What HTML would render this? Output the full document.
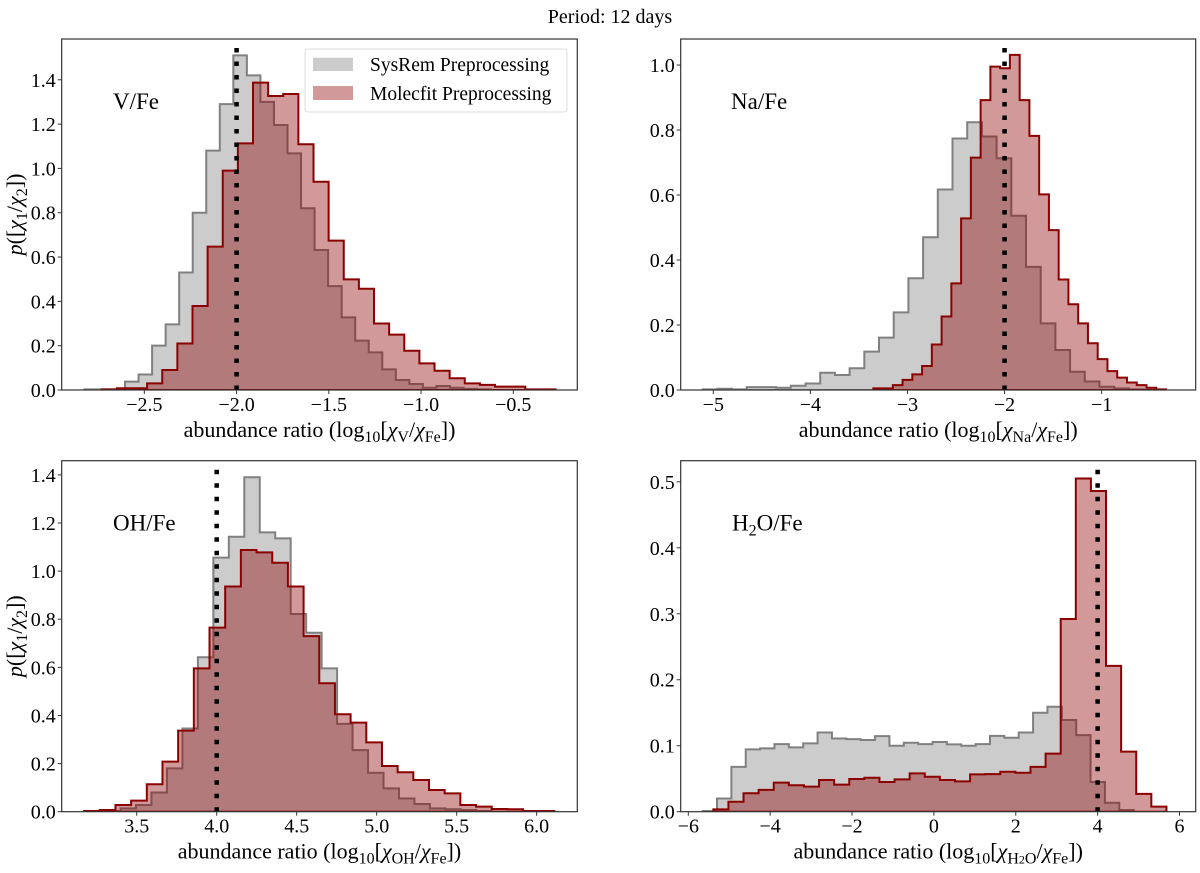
<!DOCTYPE html>
<html><head><meta charset="utf-8"><style>
html,body{margin:0;padding:0;background:#fff;}
svg, svg text, svg tspan{font-family:"Liberation Serif",serif;}
</style></head><body>
<svg id="fig" width="1200" height="868" viewBox="0 0 1200 868" xmlns="http://www.w3.org/2000/svg">
<text x="610" y="23" font-size="20" style="font-family:'Liberation Serif',serif" text-anchor="middle" fill="#000">Period: 12 days</text>
</svg>
<script>
// ---- data ----
const vfeSysStart=-2.825, vfeSysWidth=0.0734;
const vfeSys=[0.003,0.003,0.003,0.038,0.07,0.2,0.296,0.53,0.80,1.08,1.29,1.51,1.42,1.30,1.196,1.068,0.82,0.632,0.469,0.328,0.223,0.17,0.093,0.045,0.027,0.01,0.018,0.01,0.005,0.003];
const vfeMolStart=-2.731, vfeMolWidth=0.082;
const vfeMol=[0.003,0.008,0.008,0.03,0.09,0.21,0.379,0.647,0.99,1.113,1.387,1.327,1.336,1.109,0.94,0.674,0.499,0.457,0.30,0.25,0.177,0.12,0.087,0.053,0.03,0.023,0.015,0.015,0.003,0.003];
const nafeSysStart=-5.110, nafeSysWidth=0.1514;
const nafeSys=[0.002,0.004,0.002,0.009,0.009,0.007,0.013,0.02,0.053,0.046,0.067,0.118,0.161,0.239,0.344,0.47,0.617,0.774,0.824,0.78,0.713,0.536,0.379,0.205,0.123,0.056,0.026,0.01,0.005,0.002];
const nafeMolStart=-3.352, nafeMolWidth=0.1005;
const nafeMol=[0.005,0.005,0.015,0.031,0.048,0.074,0.14,0.226,0.328,0.528,0.715,0.892,0.995,0.99,1.031,0.892,0.782,0.602,0.492,0.34,0.264,0.205,0.144,0.095,0.058,0.038,0.023,0.015,0.007,0.002];
const ohfeSysStart=3.302, ohfeSysWidth=0.0967;
const ohfeSys=[0.003,0.014,0.028,0.08,0.18,0.346,0.642,1.056,1.143,1.39,1.161,1.136,0.822,0.744,0.596,0.365,0.256,0.162,0.097,0.055,0.032,0.014,0.01,0.007,0.003];
const ohfeMolStart=3.171, ohfeMolWidth=0.098;
const ohfeMol=[0.003,0.007,0.028,0.046,0.114,0.208,0.337,0.596,0.765,0.936,1.088,1.078,1.035,0.936,0.73,0.534,0.405,0.37,0.288,0.19,0.164,0.132,0.09,0.076,0.028,0.021,0.011,0.01,0.003,0.003];
const h2ofeSysStart=-5.65, h2ofeSysWidth=0.351;
const h2ofeSys=[0.001,0.02,0.068,0.0944,0.096,0.1025,0.0975,0.1035,0.12,0.111,0.110,0.1086,0.1146,0.1,0.1045,0.1025,0.1056,0.102,0.1,0.1025,0.115,0.112,0.12,0.15,0.159,0.139,0.116,0.045,0.0136,0.0025];
const h2ofeMolStart=-5.389, h2ofeMolWidth=0.369;
const h2ofeMol=[0.0035,0.015,0.028,0.033,0.044,0.04,0.038,0.048,0.041,0.0495,0.0515,0.045,0.049,0.058,0.053,0.048,0.046,0.0566,0.057,0.0606,0.059,0.068,0.088,0.292,0.505,0.486,0.221,0.091,0.027,0.0076];
const vfeXTicks=[-2.5,-2.0,-1.5,-1.0,-0.5];
const nafeXTicks=[-5,-4,-3,-2,-1];
const ohfeXTicks=[3.5,4.0,4.5,5.0,5.5,6.0];
const h2ofeXTicks=[-6,-4,-2,0,2,4,6];
const vfeYTicks=[0,0.2,0.4,0.6,0.8,1.0,1.2,1.4];
const nafeYTicks=[0,0.2,0.4,0.6,0.8,1.0];
const ohfeYTicks=[0,0.2,0.4,0.6,0.8,1.0,1.2,1.4];
const h2ofeYTicks=[0,0.1,0.2,0.3,0.4,0.5];
const vfeTruth=-2.0, nafeTruth=-2.0, ohfeTruth=4.0, h2ofeTruth=4.0;

const NS='http://www.w3.org/2000/svg';
const svg=document.getElementById('fig');
function mk(tag,attrs,parent){const e=document.createElementNS(NS,tag);for(const k in attrs)e.setAttribute(k,attrs[k]);if(tag==='text'){e.setAttribute('font-family','Liberation Serif');e.setAttribute('style',"font-family:'Liberation Serif',serif");}(parent||svg).appendChild(e);return e;}
function fmtTick(v,dec){const s=Math.abs(v).toFixed(dec);return (v<0?'\u2212':'')+s;}

function histPath(start,width,vals,sx,sy){
  let d='M'+sx(start)+','+sy(0);
  vals.forEach((v,i)=>{const x0=sx(start+i*width),x1=sx(start+(i+1)*width);d+=' L'+x0+','+sy(v)+' L'+x1+','+sy(v);});
  d+=' L'+sx(start+vals.length*width)+','+sy(0)+' Z';
  return d;
}

function panel(p){
  const g=mk('g',{});
  
  
  const sx=v=>p.L+(v-p.xmin)/(p.xmax-p.xmin)*p.W;
  const sy=v=>p.B-(v-p.ymin)/(p.ymax-p.ymin)*p.H;
  const clipId='clip-'+p.name;
  const cp=mk('clipPath',{id:clipId},g);
  mk('rect',{x:p.L,y:p.B-p.H,width:p.W,height:p.H},cp);
  const plot=mk('g',{'clip-path':'url(#'+clipId+')'},g);
  const gs=mk('path',{d:histPath(p.sysStart,p.sysWidth,p.sys,sx,sy),fill:'#cccccc',stroke:'#808080','stroke-width':2,'stroke-linejoin':'miter'},plot);
  
  
  const rm=mk('path',{d:histPath(p.molStart,p.molWidth,p.mol,sx,sy),fill:'rgba(139,0,0,0.4)',stroke:'#8b0000','stroke-width':2,'stroke-linejoin':'miter'},plot);
  
  
  const tl=mk('line',{x1:sx(p.truth),x2:sx(p.truth),y1:p.B,y2:p.B-p.H,stroke:'#000','stroke-width':4.5,'stroke-dasharray':'4.5 9'},plot);
  
  
  const fr=mk('rect',{x:p.L,y:p.B-p.H,width:p.W,height:p.H,fill:'none',stroke:'#333','stroke-width':1.2},g);
  
  
  p.xt.forEach(v=>{
    const x=sx(v);
    mk('line',{x1:x,x2:x,y1:p.B,y2:p.B+4,stroke:'#333','stroke-width':1},g);
    const t=mk('text',{x:x,y:p.B+21,'font-size':20,'text-anchor':'middle',fill:'#000'},g);
    
    
    t.textContent=fmtTick(v,p.xdec);
  });
  p.yt.forEach(v=>{
    const y=sy(v);
    mk('line',{x1:p.L-4,x2:p.L,y1:y,y2:y,stroke:'#333','stroke-width':1},g);
    const t=mk('text',{x:p.L-6,y:y+7,'font-size':20,'text-anchor':'end',fill:'#000'},g);
    
    
    t.textContent=fmtTick(v,1);
  });
  const xl=mk('text',{x:p.L+p.W/2,y:p.B+47,'font-size':22,'text-anchor':'middle',fill:'#000'},g);
  
  
  xl.innerHTML='abundance ratio (log<tspan font-size="16" dy="5">10</tspan><tspan dy="-5">[</tspan><tspan font-style="italic">χ</tspan><tspan font-size="16" dy="5">'+p.sub+'</tspan><tspan dy="-5">/</tspan><tspan font-style="italic">χ</tspan><tspan font-size="16" dy="5">Fe</tspan><tspan dy="-5">])</tspan>';
  const lb=mk('text',{x:p.labX,y:p.B-p.H+70,'font-size':23,fill:'#000'},g);
  
  
  lb.innerHTML=p.label;
  if(p.ylabel){
    const yl=mk('text',{x:0,y:0,'font-size':22,'text-anchor':'middle',fill:'#000',transform:'translate(22,'+(p.B-p.H/2)+') rotate(-90)'},g);
    
    
    yl.innerHTML='<tspan font-style="italic">p</tspan>([<tspan font-style="italic">χ</tspan><tspan font-size="16" dy="5">1</tspan><tspan dy="-5">/</tspan><tspan font-style="italic">χ</tspan><tspan font-size="16" dy="5">2</tspan><tspan dy="-5">])</tspan>';
  }
}

panel({name:'v-fe',L:61.7,W:515.6,B:390,H:351,xmin:-2.948,xmax:-0.153,ymin:0,ymax:1.584,
  sysStart:vfeSysStart,sysWidth:vfeSysWidth,sys:vfeSys,molStart:vfeMolStart,molWidth:vfeMolWidth,mol:vfeMol,
  truth:vfeTruth,xt:vfeXTicks,yt:vfeYTicks,xdec:1,sub:'V',label:'V/Fe',labX:113,ylabel:true});
panel({name:'na-fe',L:680.7,W:515,B:390,H:351,xmin:-5.336,xmax:-0.031,ymin:0,ymax:1.08,
  sysStart:nafeSysStart,sysWidth:nafeSysWidth,sys:nafeSys,molStart:nafeMolStart,molWidth:nafeMolWidth,mol:nafeMol,
  truth:nafeTruth,xt:nafeXTicks,yt:nafeYTicks,xdec:0,sub:'Na',label:'Na/Fe',labX:731,ylabel:false});
panel({name:'oh-fe',L:61.7,W:515.6,B:811.7,H:351,xmin:3.031,xmax:6.254,ymin:0,ymax:1.459,
  sysStart:ohfeSysStart,sysWidth:ohfeSysWidth,sys:ohfeSys,molStart:ohfeMolStart,molWidth:ohfeMolWidth,mol:ohfeMol,
  truth:ohfeTruth,xt:ohfeXTicks,yt:ohfeYTicks,xdec:1,sub:'OH',label:'OH/Fe',labX:113,ylabel:true});
panel({name:'h2o-fe',L:680.7,W:515,B:811.7,H:351,xmin:-6.186,xmax:6.396,ymin:0,ymax:0.532,
  sysStart:h2ofeSysStart,sysWidth:h2ofeSysWidth,sys:h2ofeSys,molStart:h2ofeMolStart,molWidth:h2ofeMolWidth,mol:h2ofeMol,
  truth:h2ofeTruth,xt:h2ofeXTicks,yt:h2ofeYTicks,xdec:0,sub:'H<tspan font-size="12">2</tspan>O',label:'H<tspan font-size="16" dy="5">2</tspan><tspan dy="-5">O/Fe</tspan>',labX:732,ylabel:false});

// legend
const lg=mk('g',{});


mk('rect',{x:305,y:49,width:262,height:63,rx:3,fill:'rgba(255,255,255,0.8)',stroke:'#dddddd','stroke-width':1},lg);
const p1=mk('rect',{x:313,y:57.7,width:40,height:13.3,fill:'#cccccc'},lg);


const p2=mk('rect',{x:313,y:86,width:40,height:14,fill:'rgba(139,0,0,0.4)'},lg);


const t1=mk('text',{x:370,y:71,'font-size':19.5,fill:'#000'},lg);


t1.textContent='SysRem Preprocessing';
const t2=mk('text',{x:370,y:100,'font-size':19.5,fill:'#000'},lg);


t2.textContent='Molecfit Preprocessing';
</script>
</body></html>
